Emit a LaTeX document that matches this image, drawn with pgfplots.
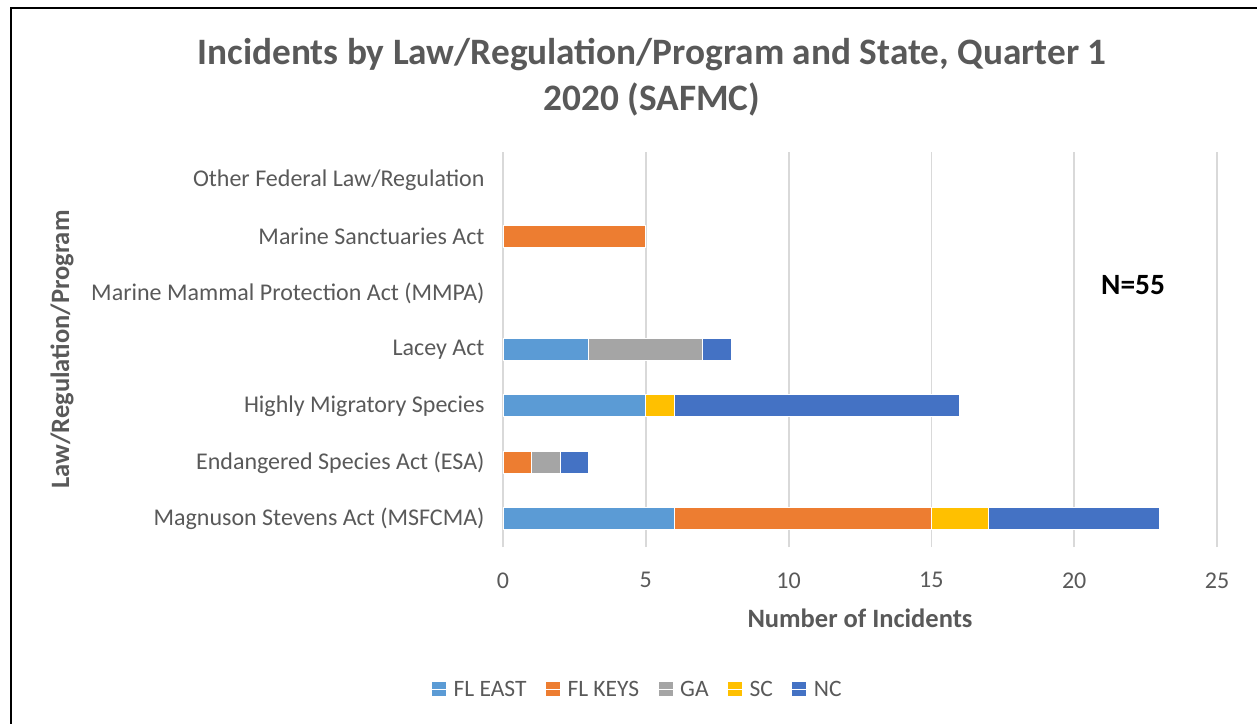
\documentclass[border=0pt]{standalone}
\usepackage{pgfplots}
\pgfplotsset{compat=1.18}
\usepackage{pgfplotstable}
\usepackage{fontspec}
\setmainfont{Carlito}
\definecolor{txt}{HTML}{595959}
\definecolor{cFLE}{HTML}{5B9BD5}
\definecolor{cFLK}{HTML}{ED7D31}
\definecolor{cGA}{HTML}{A5A5A5}
\definecolor{cSC}{HTML}{FFC000}
\definecolor{cNC}{HTML}{4472C4}
\definecolor{grd}{HTML}{D9D9D9}
\newcommand{\fs}[1]{\fontsize{#1bp}{1.2\dimexpr#1bp\relax}\selectfont}

\pgfplotstableread{
idx FLE FLK GA SC NC
0 6 9 0 2 6
1 0 1 1 0 1
2 5 0 0 1 10
3 3 0 4 0 1
4 0 0 0 0 0
5 0 5 0 0 0
6 0 0 0 0 0
}\datatab

\begin{document}
\begin{tikzpicture}
\useasboundingbox (0,0) rectangle (1257bp,-724bp);
\draw[line width=2.5bp] (11bp,-730bp) -- (11bp,-7.8bp) -- (1262bp,-7.8bp);
\node[anchor=base, font=\fs{37.3}\bfseries, text=txt, inner sep=0] at (652bp,-64bp) {Incidents by Law/Regulation/Program and State, Quarter 1};
\node[anchor=base, font=\fs{37.3}\bfseries, text=txt, inner sep=0] at (652bp,-110bp) {2020 (SAFMC)};
\begin{axis}[
  at={(503bp,-547bp)}, anchor=south west,
  scale only axis, width=714bp, height=395bp,
  xbar stacked, bar width=22bp,
  xmin=0, xmax=25, ymin=-0.5, ymax=6.5,
  xtick={0,5,...,25},
  ytick={0,1,2,3,4,5,6},
  yticklabels={Magnuson Stevens Act (MSFCMA),Endangered Species Act (ESA),Highly Migratory Species,Lacey Act,Marine Mammal Protection Act (MMPA),Marine Sanctuaries Act,Other Federal Law/Regulation},
  major tick length=0pt,
  axis line style={draw=none},
  xmajorgrids, grid style={grd, line width=1.8bp},
  /pgf/number format/assume math mode=true,
  tick label style={font=\fs{24}, text=txt},
  xticklabel style={yshift=-22bp},
  yticklabel style={xshift=-15bp},
  xlabel={Number of Incidents},
  xlabel style={at={(axis description cs:0.5,-0.18)}, anchor=center, font=\fs{26.5}\bfseries, text=txt},
  ylabel={Law/Regulation/Program},
  ylabel style={at={(axis description cs:-0.6176,0.5)}, anchor=center, rotate=0, font=\fs{26.5}\bfseries, text=txt},
  legend columns=-1,
  legend style={at={(axis description cs:0.19,-0.36)}, anchor=center, draw=none, fill=none,
    font=\fs{23.5}, text=txt, /tikz/every even column/.append style={column sep=15bp},
    nodes={inner sep=4bp}},
  legend image code/.code={\fill[#1,draw=none] (0bp,-7bp) rectangle (14bp,7bp); \path (0bp,0bp) -- (17bp,0bp);},
  every axis plot/.append style={draw=white, line width=1bp},
]
\addplot[fill=cFLE] table[x=FLE, y=idx] {\datatab};
\addplot[fill=cFLK] table[x=FLK, y=idx] {\datatab};
\addplot[fill=cGA] table[x=GA, y=idx] {\datatab};
\addplot[fill=cSC] table[x=SC, y=idx] {\datatab};
\addplot[fill=cNC] table[x=NC, y=idx] {\datatab};
\legend{FL EAST, FL KEYS, GA, SC, NC}
\node[font=\fs{29.4}\bfseries, text=black] at (axis cs:22.06,4.14) {N=55};
\end{axis}
\end{tikzpicture}
\end{document}
